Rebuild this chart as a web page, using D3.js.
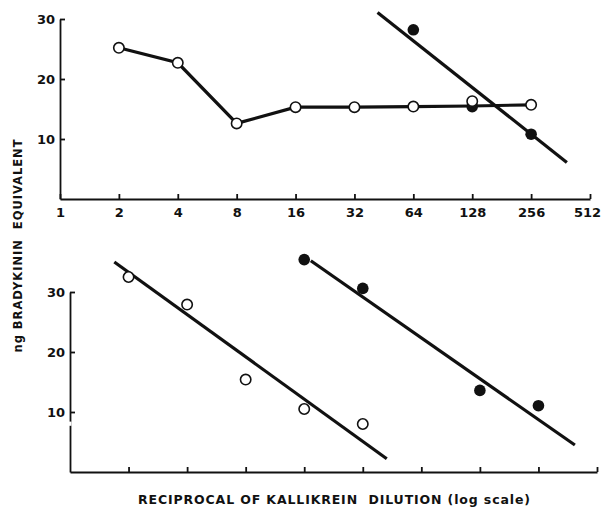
<!DOCTYPE html>
<html>
<head>
<meta charset="utf-8">
<script src="https://cdn.jsdelivr.net/npm/d3@7"></script>
<style>
  body { margin: 0; background: #fff; }
  text { font-family: "DejaVu Sans", "Liberation Sans", sans-serif; fill: #111; }
</style>
</head>
<body>
<div id="chart"></div>
<script>
// dilution ticks (log2 scale)
var dilutionTicks = [1, 2, 4, 8, 16, 32, 64, 128, 256, 512];
var yTicks = [10, 20, 30];

// top panel
var topOpenX = [2, 4, 8, 16, 32, 64, 128, 256];
var topOpenY = [25.2, 22.7, 12.6, 15.3, 15.3, 15.4, 16.3, 15.7];
var topLineY = [25.2, 22.7, 12.6, 15.3, 15.3, 15.4, 15.5, 15.7];
var topFilledX = [64, 128, 256];
var topFilledY = [28.2, 15.4, 10.8];
var topFitX = [42, 390];
var topFitY = [31.1, 6.1];

// bottom panel
var botOpenX = [2, 4, 8, 16, 32];
var botOpenY = [32.5, 27.9, 15.4, 10.5, 8.0];
var botOpenFitX = [1.69, 42.5];
var botOpenFitY = [35.0, 2.2];
var botFilledX = [16, 32, 128, 256];
var botFilledY = [35.4, 30.6, 13.6, 11.05];
var botFilledFitX = [17.3, 394];
var botFilledFitY = [35.2, 4.5];

var yLabel = "ng BRADYKININ  EQUIVALENT";
var xLabel = "RECIPROCAL OF KALLIKREIN  DILUTION (log scale)";

function zip(xs, ys){ return xs.map((x, i) => ({x: x, y: ys[i]})); }

var width = 602, height = 507;
var svg = d3.select("#chart").append("svg")
    .attr("width", width).attr("height", height);

var panels = [
  {x0: 60, x1: 590, y0: 199, y1: 19, labels: true, gap: null,
   open: zip(topOpenX, topOpenY), line: zip(topOpenX, topLineY),
   filled: zip(topFilledX, topFilledY), fits: [zip(topFitX, topFitY)]},
  {x0: 70, x1: 597, y0: 472, y1: 292, labels: false, gap: [8.4, 7.7],
   open: zip(botOpenX, botOpenY), line: null,
   filled: zip(botFilledX, botFilledY),
   fits: [zip(botOpenFitX, botOpenFitY), zip(botFilledFitX, botFilledFitY)]}
];

panels.forEach(function(p){
  var x = d3.scaleLog().base(2).domain([1, 512]).range([p.x0, p.x1]);
  var y = d3.scaleLinear().domain([0, 30]).range([p.y0, p.y1]);

  var xAx = svg.append("g")
      .attr("transform", `translate(0,${p.y0})`)
      .call(d3.axisBottom(x).tickValues(p.labels ? dilutionTicks : dilutionTicks.slice(1))
            .tickFormat(p.labels ? d3.format("d") : () => "")
            .tickSizeInner(-5).tickSizeOuter(0).tickPadding(9));
  xAx.selectAll("line, path").attr("stroke", "#111").attr("stroke-width", 1.8);
  xAx.selectAll("text").attr("font-size", 13).attr("font-weight", "bold");
  // last label sits against the right edge
  xAx.selectAll(".tick:last-of-type text").attr("dx", -3);

  var yAx = svg.append("g")
      .attr("transform", `translate(${p.x0},0)`)
      .call(d3.axisLeft(y).tickValues(yTicks)
            .tickSizeInner(-5).tickSizeOuter(0).tickPadding(5));
  yAx.selectAll("line, path").attr("stroke", "#111").attr("stroke-width", 1.8);
  yAx.selectAll("text").attr("font-size", 13).attr("font-weight", "bold");

  // small break in the printed axis line
  if(p.gap){
    svg.append("line")
       .attr("x1", p.x0).attr("x2", p.x0)
       .attr("y1", y(p.gap[0])).attr("y2", y(p.gap[1]))
       .attr("stroke", "#fff").attr("stroke-width", 3);
  }

  var line = d3.line().x(d => x(d.x)).y(d => y(d.y));

  p.fits.forEach(function(f){
    svg.append("path").attr("d", line(f))
       .attr("fill", "none").attr("stroke", "#111").attr("stroke-width", 3.2);
  });
  if(p.line){
    svg.append("path").attr("d", line(p.line))
       .attr("fill", "none").attr("stroke", "#111").attr("stroke-width", 3.2);
  }

  svg.append("g").selectAll("circle").data(p.filled).join("circle")
     .attr("cx", d => x(d.x)).attr("cy", d => y(d.y)).attr("r", 5.8)
     .attr("fill", "#111");

  svg.append("g").selectAll("circle").data(p.open).join("circle")
     .attr("cx", d => x(d.x)).attr("cy", d => y(d.y)).attr("r", 5.2)
     .attr("fill", "#fff").attr("stroke", "#111").attr("stroke-width", 1.6);
});

svg.append("text")
   .attr("transform", "translate(22,246) rotate(-90)")
   .attr("text-anchor", "middle")
   .attr("font-size", 11.5).attr("font-weight", "bold")
   .attr("textLength", 213).attr("lengthAdjust", "spacing")
   .style("white-space", "pre")
   .text(yLabel);

svg.append("text")
   .attr("x", 138).attr("y", 504)
   .attr("font-size", 12.5).attr("font-weight", "bold")
   .attr("textLength", 392).attr("lengthAdjust", "spacing")
   .style("white-space", "pre")
   .text(xLabel);
</script>
</body>
</html>
